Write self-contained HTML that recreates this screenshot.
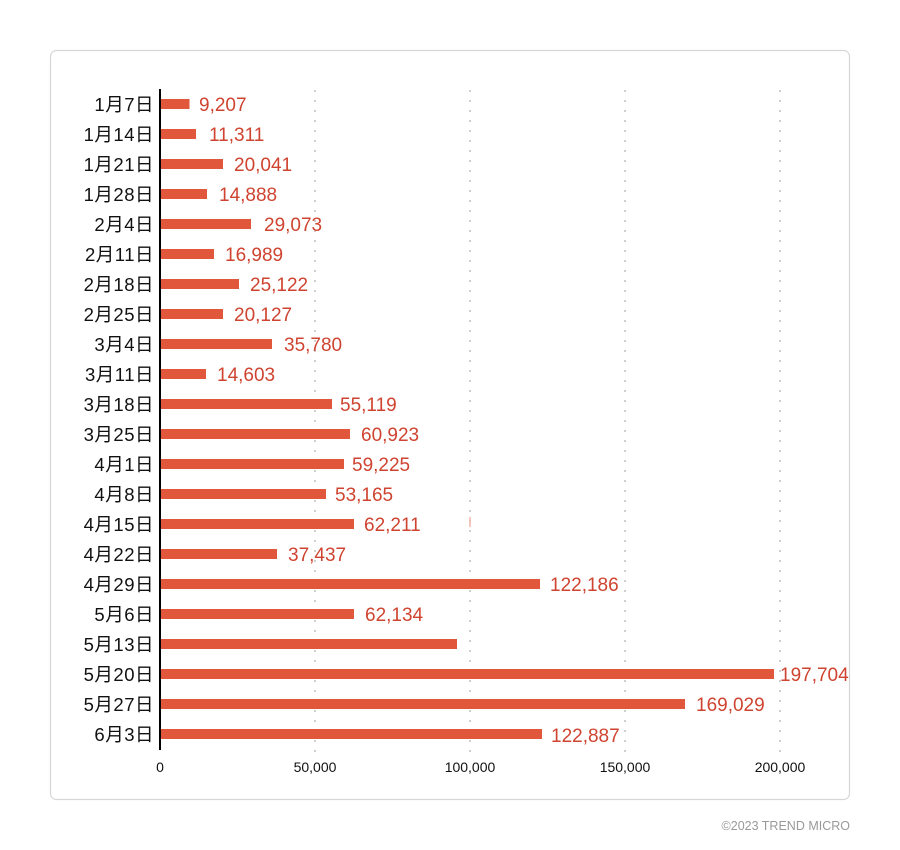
<!DOCTYPE html>
<html><head><meta charset="utf-8"><style>
html,body{margin:0;padding:0;background:#fff;}
svg{display:block}
</style></head><body>
<svg width="900" height="850" xmlns="http://www.w3.org/2000/svg">
<rect x="50.5" y="50.5" width="799" height="749" rx="6" fill="#fff" stroke="#d6d6d6" stroke-width="1.2"/>
<g stroke="#cfcfcf" stroke-width="2" stroke-dasharray="2,8">
<line x1="315" y1="90" x2="315" y2="752"/>
<line x1="470" y1="90" x2="470" y2="752"/>
<line x1="625" y1="90" x2="625" y2="752"/>
<line x1="780" y1="90" x2="780" y2="752"/>
</g>
<line x1="470" y1="517" x2="470" y2="527" stroke="#f5b5aa" stroke-width="1.5"/>
<g fill="#e0573c">
<rect x="161" y="99" width="28.5" height="10"/>
<rect x="161" y="129" width="35" height="10"/>
<rect x="161" y="159" width="62" height="10"/>
<rect x="161" y="189" width="46" height="10"/>
<rect x="161" y="219" width="90" height="10"/>
<rect x="161" y="249" width="53" height="10"/>
<rect x="161" y="279" width="78" height="10"/>
<rect x="161" y="309" width="62" height="10"/>
<rect x="161" y="339" width="111" height="10"/>
<rect x="161" y="369" width="45" height="10"/>
<rect x="161" y="399" width="171" height="10"/>
<rect x="161" y="429" width="189" height="10"/>
<rect x="161" y="459" width="183" height="10"/>
<rect x="161" y="489" width="165" height="10"/>
<rect x="161" y="519" width="193" height="10"/>
<rect x="161" y="549" width="116" height="10"/>
<rect x="161" y="579" width="379" height="10"/>
<rect x="161" y="609" width="193" height="10"/>
<rect x="161" y="639" width="296" height="10"/>
<rect x="161" y="669" width="613" height="10"/>
<rect x="161" y="699" width="524" height="10"/>
<rect x="161" y="729" width="381" height="10"/>
</g>
<line x1="160" y1="89" x2="160" y2="750" stroke="#000" stroke-width="2"/>
<g font-family="'Liberation Sans','Noto Sans CJK JP',sans-serif" font-size="18.5" fill="#111" text-anchor="end" letter-spacing="0.5">
<text x="154" y="111">1月7日</text>
<text x="154" y="141">1月14日</text>
<text x="154" y="171">1月21日</text>
<text x="154" y="201">1月28日</text>
<text x="154" y="231">2月4日</text>
<text x="154" y="261">2月11日</text>
<text x="154" y="291">2月18日</text>
<text x="154" y="321">2月25日</text>
<text x="154" y="351">3月4日</text>
<text x="154" y="381">3月11日</text>
<text x="154" y="411">3月18日</text>
<text x="154" y="441">3月25日</text>
<text x="154" y="471">4月1日</text>
<text x="154" y="501">4月8日</text>
<text x="154" y="531">4月15日</text>
<text x="154" y="561">4月22日</text>
<text x="154" y="591">4月29日</text>
<text x="154" y="621">5月6日</text>
<text x="154" y="651">5月13日</text>
<text x="154" y="681">5月20日</text>
<text x="154" y="711">5月27日</text>
<text x="154" y="741">6月3日</text>
</g>
<g font-family="'Liberation Sans',sans-serif" font-size="19" fill="#cf4430">
<text x="199" y="111">9,207</text>
<text x="209" y="141">11,311</text>
<text x="234" y="171">20,041</text>
<text x="219" y="201">14,888</text>
<text x="264" y="231">29,073</text>
<text x="225" y="261">16,989</text>
<text x="250" y="291">25,122</text>
<text x="234" y="321">20,127</text>
<text x="284" y="351">35,780</text>
<text x="217" y="381">14,603</text>
<text x="340" y="411">55,119</text>
<text x="361" y="441">60,923</text>
<text x="352" y="471">59,225</text>
<text x="335" y="501">53,165</text>
<text x="364" y="531">62,211</text>
<text x="288" y="561">37,437</text>
<text x="550" y="591">122,186</text>
<text x="365" y="621">62,134</text>
<text x="780" y="681">197,704</text>
<text x="696" y="711">169,029</text>
<text x="551" y="742">122,887</text>
</g>
<g font-family="'Liberation Sans',sans-serif" font-size="14" fill="#111" text-anchor="middle">
<text x="160" y="772">0</text>
<text x="315" y="772">50,000</text>
<text x="470" y="772">100,000</text>
<text x="625" y="772">150,000</text>
<text x="780" y="772">200,000</text>
</g>
<text x="850" y="830" text-anchor="end" font-family="'Liberation Sans',sans-serif" font-size="12.5" fill="#999">©2023 TREND MICRO</text>
</svg>
</body></html>
